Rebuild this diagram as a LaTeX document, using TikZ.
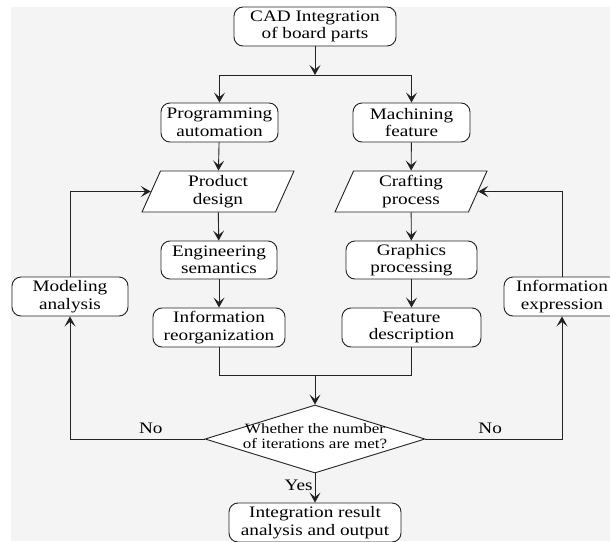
\documentclass[tikz,border=0pt]{standalone}
\usepackage{fontspec}
\setmainfont{Liberation Serif}[FakeStretch=1.2]
\usetikzlibrary{arrows.meta,shapes.geometric}
\newcommand\mainsz{\fontsize{16}{17.5}\selectfont}
\newcommand\smallsz{\fontsize{14.2}{15}\selectfont}
\definecolor{bggray}{HTML}{F4F4F4}
\definecolor{linec}{HTML}{222222}
\begin{document}
\begin{tikzpicture}[x=1pt,y=-1pt,
  box/.style={draw=linec, fill=white, line width=0.9pt, rounded corners=9pt, align=center, inner sep=0pt, font=\mainsz, minimum height=39pt},
  para/.style={draw=linec, fill=white, line width=0.9pt, trapezium, trapezium left angle=60, trapezium right angle=120, trapezium stretches body=true, align=center, inner sep=0pt, font=\mainsz, minimum width=152pt, minimum height=41pt},
  dec/.style={draw=linec, fill=white, line width=0.9pt, diamond, inner sep=0pt, font=\smallsz, minimum width=220pt, minimum height=68pt},
  conn/.style={draw=linec, line width=0.9pt},
  arr/.style={draw=linec, line width=0.9pt, -{Stealth[length=10pt,width=11pt,inset=4.5pt]}},
  lbl/.style={font=\mainsz, inner sep=0pt}]
\useasboundingbox (0,0) rectangle (610,541);
\fill[white] (0,0) rectangle (610,541);
\fill[bggray] (11,7) rectangle (610,541);
% nodes
\node[box, minimum width=162pt] (cad) at (315,26.5) {CAD Integration\\of board parts};
\node[box, minimum width=117pt] (prog) at (219.5,122.5) {Programming\\automation};
\node[box, minimum width=117pt] (mach) at (411.5,122.5) {Machining\\feature};
\node[para] (prod) at (218,191.5) {Product\\design};
\node[para] (craft) at (411,191.5) {Crafting\\process};
\node[box, minimum width=116pt, minimum height=38pt] (eng) at (219,260) {Engineering\\semantics};
\node[box, minimum width=131pt, minimum height=38pt] (graph) at (411.5,260) {Graphics\\processing};
\node[box, minimum width=116pt] (model) at (70,296.5) {Modeling\\analysis};
\node[box, minimum width=116pt] (infoexp) at (562,296.5) {Information\\expression};
\node[box, minimum width=132pt] (reorg) at (219,327.5) {Information\\reorganization};
\node[box, minimum width=139pt] (feat) at (411.5,327.5) {Feature\\description};
\node[dec] (dia) at (315,439) {\raisebox{-3pt}[0pt][0pt]{\makebox[0pt]{\begin{tabular}{@{}c@{}}Whether the number\\of iterations are met?\end{tabular}}}};
\node[box, minimum width=172pt] (final) at (315,522.5) {Integration result\\analysis and output};
% coordinates
\coordinate (split) at (315,75);
\coordinate (merge) at (315,375);
% connectors
\draw[arr] (cad) -- (split);
\draw[arr] (split) -| (prog);
\draw[arr] (split) -| (mach);
\draw[arr] (prog) -- (prod);
\draw[arr] (mach) -- (craft);
\draw[arr] (prod) -- (eng);
\draw[arr] (craft) -- (graph);
\draw[arr] (eng) -- (reorg);
\draw[arr] (graph) -- (feat);
\draw[conn] (reorg) |- (merge);
\draw[conn] (feat) |- (merge);
\draw[arr] (merge) -- (dia);
\draw[arr] (dia) -| node[lbl, pos=0.2, anchor=south, yshift=5pt] {No} (model);
\draw[arr] (model) |- (prod);
\draw[arr] (dia) -| node[lbl, pos=0.237, anchor=south, yshift=5pt] {No} (infoexp);
\draw[arr] (infoexp) |- (craft);
\draw[arr] (dia) -- node[lbl, pos=0.4, anchor=east, xshift=-2pt] {Yes} (final);
\end{tikzpicture}
\end{document}
